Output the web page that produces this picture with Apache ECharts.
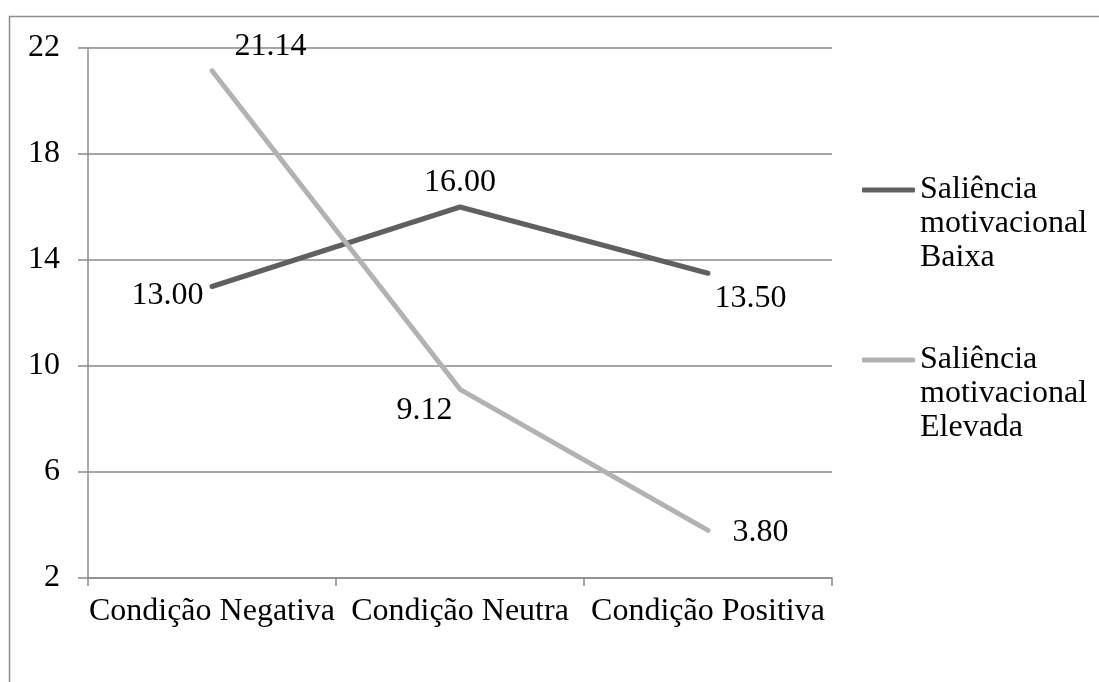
<!DOCTYPE html>
<html>
<head>
<meta charset="utf-8">
<script src="https://cdn.jsdelivr.net/npm/echarts@6/dist/echarts.min.js"></script>
<style>
html,body{margin:0;padding:0;background:#fff;}
#chart{width:1099px;height:682px;}
</style>
</head>
<body>
<div id="chart"></div>
<script>
var categories = ['Condição Negativa', 'Condição Neutra', 'Condição Positiva'];
var seriesNames = ['Saliência motivacional Baixa', 'Saliência motivacional Elevada'];
var baixa = [13.00, 16.00, 13.50];
var elevada = [21.14, 9.12, 3.80];
var yMin = 2, yMax = 22, yStep = 4;

var FONT = '"Liberation Serif", "Times New Roman", serif';
var labelBase = { show: true, fontFamily: FONT, fontSize: 32, color: '#000', distance: 5, formatter: function (p) { return p.value.toFixed(2); } };
var baixaLabelCfg = [
  { position: 'left', offset: [-3, 9] },
  { position: 'top', offset: [0, -3] },
  { position: 'right', offset: [1, 25] }
];
var elevadaLabelCfg = [
  { position: 'right', offset: [17, -24] },
  { position: 'left', offset: [-2, 21] },
  { position: 'right', offset: [19, 2] }
];
function build(vals, cfg) {
  return vals.map(function (v, i) { return { value: v, label: Object.assign({}, labelBase, cfg[i]) }; });
}

var chart = echarts.init(document.getElementById('chart'), null, { renderer: 'canvas' });
chart.setOption({
  animation: false,
  backgroundColor: '#fff',
  graphic: [{
    type: 'rect', silent: true, z: -1,
    shape: { x: 9.5, y: 16.5, width: 1300, height: 900 },
    style: { fill: 'none', stroke: '#8c8c8c', lineWidth: 1.5 }
  }],
  grid: { left: 88, right: 267, top: 48, bottom: 104, containLabel: false },
  legend: {
    orient: 'vertical',
    left: 862,
    top: 105,
    padding: 0,
    itemWidth: 53,
    itemHeight: 5,
    itemGap: 0,
    icon: 'roundRect',
    formatter: function (name) { return '\n\n' + name.replace(/ /g, '\n'); },
    textStyle: { fontFamily: FONT, fontSize: 32, color: '#000', lineHeight: 34 },
    data: seriesNames
  },
  xAxis: {
    type: 'category',
    data: categories,
    boundaryGap: true,
    axisLine: { show: true, lineStyle: { color: '#8a8a8a', width: 1.5 } },
    axisTick: { show: true, length: 8, alignWithLabel: false, lineStyle: { color: '#8a8a8a', width: 1.5 } },
    axisLabel: { fontFamily: FONT, fontSize: 32, color: '#000', margin: 18, interval: 0 },
    splitLine: { show: false }
  },
  yAxis: {
    type: 'value',
    min: yMin, max: yMax, interval: yStep,
    axisLine: { show: true, lineStyle: { color: '#8a8a8a', width: 1.5 } },
    axisTick: { show: true, length: 10, lineStyle: { color: '#8a8a8a', width: 1.5 } },
    axisLabel: { fontFamily: FONT, fontSize: 32, color: '#000', margin: 28 },
    splitLine: { show: true, lineStyle: { color: '#8a8a8a', width: 1.5 } }
  },
  series: [
    {
      name: seriesNames[0], type: 'line',
      data: build(baixa, baixaLabelCfg),
      symbol: 'circle', symbolSize: 1,
      itemStyle: { color: '#606060' },
      lineStyle: { color: '#606060', width: 5, cap: 'round', join: 'round' }
    },
    {
      name: seriesNames[1], type: 'line',
      data: build(elevada, elevadaLabelCfg),
      symbol: 'circle', symbolSize: 1,
      itemStyle: { color: '#b2b2b2' },
      lineStyle: { color: '#b2b2b2', width: 5, cap: 'round', join: 'round' }
    }
  ]
});
</script>
</body>
</html>
